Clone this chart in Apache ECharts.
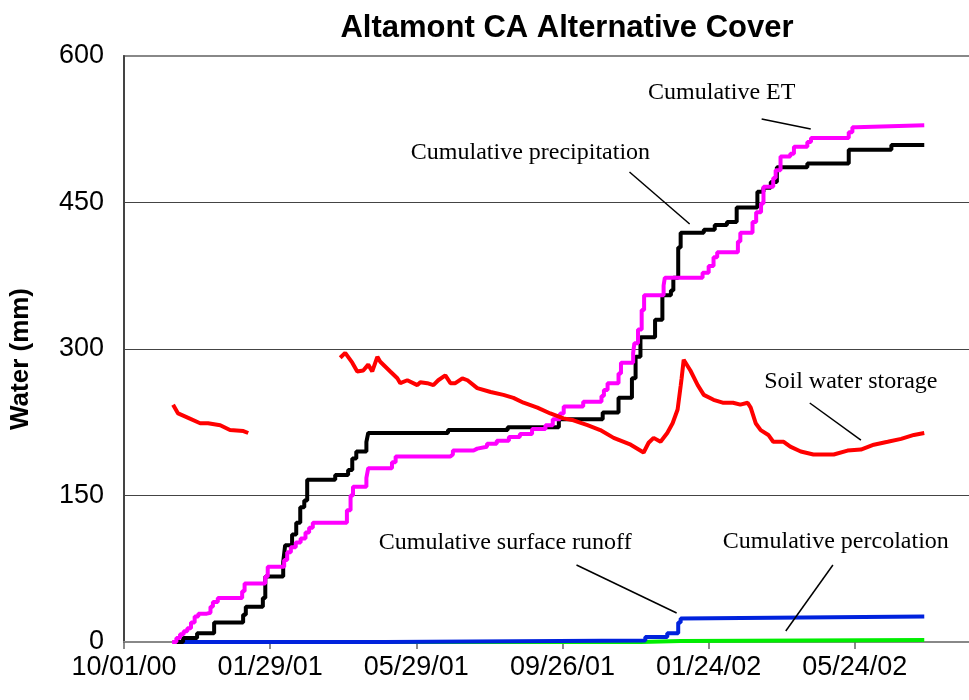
<!DOCTYPE html>
<html>
<head>
<meta charset="utf-8">
<script src="https://cdn.jsdelivr.net/npm/echarts@6/dist/echarts.min.js"></script>
<style>
  html, body { margin: 0; padding: 0; background: #fff; }
  #chart { width: 969px; height: 700px; }
</style>
</head>
<body>
<div id="chart"></div>
<script>
// Days counted from 10/01/00; values in mm.
const DAY0 = Date.UTC(2000, 9, 1);

// Cumulative series are step lines: each value holds from its day onwards.
const precipDays = [42.7, 48.5, 60, 74, 97.8, 100, 114, 116, 130.7, 132.3, 138, 141.4, 144.7, 148, 150.4, 173.4, 184, 187.4, 190.7, 199, 200.5, 266, 315, 357, 393, 406, 417, 420, 424, 436, 442, 449, 451, 455, 457, 476, 485, 495, 503, 520, 525, 531, 536, 561, 595, 630, 657];
const precipMm   = [0, 4, 9, 20, 28, 36, 45, 67, 82, 99, 110, 122, 138, 145, 166, 171, 176, 188, 195, 205, 214, 217, 220, 228, 235, 250, 270, 292, 312, 330, 355, 360, 373, 404, 419, 422, 427, 430, 445, 461, 465, 471, 486, 490, 504, 509, 509];

const etDays = [39.5, 43, 46, 49, 52, 55, 58, 61, 68, 71, 73, 77, 97, 99, 116, 118, 131.5, 134, 137, 141, 145, 149, 152, 155, 183, 186, 188, 199, 200.5, 220, 223, 268, 270, 287, 290, 298, 306, 316, 325, 335, 346, 352, 358, 361, 377, 392, 394, 397, 406, 408, 418, 419, 422, 425, 427, 443, 444, 475, 480, 484, 487, 504, 506, 516, 519, 523, 525, 533, 535, 539, 547, 550, 561, 564, 595, 598, 601, 657];
const etMm   = [0, 4, 8, 11, 14, 20, 26, 29, 30, 36, 41, 45, 52, 60, 67, 77, 84, 92, 97, 102, 106, 112, 117, 122, 135, 150, 159, 168, 178, 184, 190, 192, 196, 198, 200, 203, 206, 210, 213, 218, 222, 228, 234, 241, 246, 252, 258, 265, 275, 286, 296, 306, 320, 340, 355, 365, 373, 378, 385, 394, 399, 410, 419, 430, 440, 449, 466, 475, 483, 497, 500, 507, 512, 516, 522, 527, 529, 529];

// Soil water storage (null = missing record, line breaks there)
const soilDays = [40.3, 44.4, 51.8, 62.5, 69, 79, 87, 98, 102, 140, 177.5, 181.6, 187.4, 191.5, 196.4, 200.5, 203.8, 208, 210.4, 218.6, 224.4, 226.8, 232.6, 240.8, 243.3, 249, 254, 258, 263.8, 268, 272, 277.8, 282, 290, 301, 311.5, 319.7, 328, 339.4, 350, 360.8, 369, 380.5, 391, 402, 416, 426.6, 430.7, 434.8, 440.5, 446, 450.4, 454.5, 457, 457.8, 459.5, 465, 471, 476, 484, 491.5, 500, 506, 512, 514.5, 518.6, 522.7, 529, 533, 541.6, 547, 555.6, 566, 582.7, 594, 605, 615.6, 627, 638, 648.5, 657];
const soilMm   = [243, 234, 230, 224, 224, 222, 217, 216, 214, null, 291, 296, 286, 277, 278, 284, 277, 292, 287, 277, 270, 265, 268, 263, 266, 265, 263, 268, 273, 265, 265, 270, 268, 260, 256, 253, 250, 245, 240, 234, 229, 227, 222, 217, 209, 202, 194, 204, 209, 205, 214, 224, 238, 262, 270, 289, 278, 263, 253, 248, 245, 245, 243, 245, 240, 224, 217, 212, 205, 205, 200, 195, 192, 192, 196, 197, 202, 205, 208, 212, 214];

const runoffDays = [42, 214.5, 428, 446, 455, 457, 458.6, 657];
const runoffMm   = [0, 1.5, 5, 9, 20, 24, 26, 26];

const percDays = [42, 424, 440.5, 457, 657];
const percMm   = [0, 0.5, 1, 2, 2];

// Callout labels with their leader lines (in data units)
const noteText = ['Cumulative ET', 'Cumulative precipitation', 'Soil water storage', 'Cumulative surface runoff', 'Cumulative percolation'];
const noteAt   = [[490.7, 562], [333.7, 500.7], [596.7, 267], [313, 101.4], [584.4, 102.4]];
const leadFrom = [[523.5, 535.5], [415, 481.2], [563, 244.7], [371.5, 78.8], [582, 78.8]];
const leadTo   = [[563.8, 525.2], [464.4, 428], [605, 206.8], [453.7, 29.7], [543.3, 11.3]];

const pairs = (xs, ys) => xs.map((x, i) => [x, ys[i] == null ? '-' : ys[i]]);

function fmtDay(d) {
  const t = new Date(DAY0 + d * 86400000);
  const p = (n) => String(n).padStart(2, '0');
  return `${p(t.getUTCMonth() + 1)}/${p(t.getUTCDate())}/${p(t.getUTCFullYear() % 100)}`;
}

const SANS = '"Liberation Sans", Arial, sans-serif';
const SERIF = '"Liberation Serif", "Times New Roman", serif';

const chart = echarts.init(document.getElementById('chart'), null, { renderer: 'canvas' });

const lineSeries = (name, data, color, step) => ({
  name, type: 'line', data, step, showSymbol: false, connectNulls: false,
  lineStyle: { color, width: 4 }, itemStyle: { color },
});

const precip = lineSeries('Cumulative precipitation', pairs(precipDays, precipMm), '#000', 'end');
precip.markLine = {
  symbol: 'none', silent: true, animation: false,
  label: { show: false },
  lineStyle: { color: '#000', width: 1.5, type: 'solid' },
  data: leadFrom.map((f, i) => [{ coord: f }, { coord: leadTo[i] }]),
};
precip.markPoint = {
  symbol: 'circle', symbolSize: 0, silent: true, animation: false,
  label: { show: true, position: 'inside', formatter: '{b}', color: '#000', fontSize: 24, fontFamily: SERIF },
  data: noteText.map((t, i) => ({ name: t, coord: noteAt[i] })),
};

chart.setOption({
  animation: false,
  backgroundColor: '#fff',
  title: {
    text: 'Altamont CA Alternative Cover',
    left: 562, top: 8, textAlign: 'center',
    textStyle: { fontFamily: SANS, fontWeight: 'bold', fontSize: 31, color: '#000' },
  },
  // plot runs past the right edge of the picture (axis ends at 09/21/02)
  grid: {
    left: 124, top: 56, width: 877, bottom: 58,
    outerBoundsMode: 'none', containLabel: false,
    show: true, borderColor: '#888', borderWidth: 2, backgroundColor: 'transparent',
  },
  xAxis: {
    type: 'value', min: 0, max: 720, interval: 120,
    axisLine: { show: true, lineStyle: { color: '#888', width: 2 } },
    axisTick: { show: true, length: 7, lineStyle: { color: '#666', width: 1.5 } },
    axisLabel: { formatter: fmtDay, fontSize: 27, fontFamily: SANS, color: '#000', margin: 12, showMaxLabel: false },
    splitLine: { show: false },
  },
  yAxis: {
    type: 'value', min: 0, max: 600, interval: 150,
    name: 'Water (mm)', nameLocation: 'middle', nameRotate: 90, nameGap: 90,
    nameTextStyle: { fontFamily: SANS, fontWeight: 'bold', fontSize: 26, color: '#000', padding: [0, 20, 0, 0] },
    axisLine: { show: true, lineStyle: { color: '#444', width: 2 } },
    axisTick: { show: false },
    axisLabel: { fontSize: 27, fontFamily: SANS, color: '#000', margin: 20 },
    splitLine: { show: true, lineStyle: { color: ['transparent', '#444', '#444', '#444', 'transparent'], width: 1 } },
  },
  series: [
    lineSeries('Cumulative percolation', pairs(percDays, percMm), '#00ee00', 'end'),
    lineSeries('Cumulative surface runoff', pairs(runoffDays, runoffMm), '#0022dd', 'end'),
    precip,
    lineSeries('Cumulative ET', pairs(etDays, etMm), '#ff00ff', 'end'),
    lineSeries('Soil water storage', pairs(soilDays, soilMm), '#ff0000', false),
  ],
});
</script>
</body>
</html>
